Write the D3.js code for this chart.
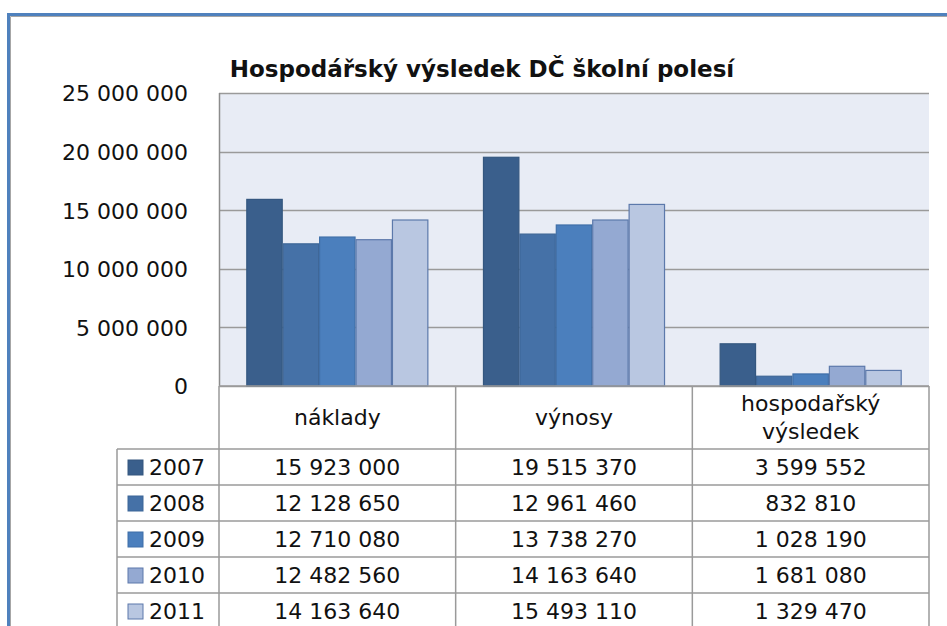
<!DOCTYPE html>
<html>
<head>
<meta charset="utf-8">
<script src="https://cdn.jsdelivr.net/npm/d3@7"></script>
<style>
  body { margin: 0; background: #fff; }
  svg text { font-family: "DejaVu Sans", sans-serif; fill: #111; }
</style>
</head>
<body>
<div id="chart"></div>
<script>
// data
var categories = ["náklady", "výnosy", "hospodařský výsledek"];
var years = ["2007", "2008", "2009", "2010", "2011"];
var naklady = [15923000, 12128650, 12710080, 12482560, 14163640];
var vynosy = [19515370, 12961460, 13738270, 14163640, 15493110];
var vysledek = [3599552, 832810, 1028190, 1681080, 1329470];
var yTicks = [0, 5000000, 10000000, 15000000, 20000000, 25000000];

var colors = ["#3a5f8c", "#4571a7", "#4b7fbd", "#94a9d2", "#b9c7e1"];
var strokes = ["#34577f", "#3d6697", "#3f6fa8", "#5c79ab", "#5c79ab"];

var series = [naklady, vynosy, vysledek];

var W = 947, H = 626;
var svg = d3.select("#chart").append("svg")
    .attr("width", W)
    .attr("height", H);

// outer frame of the pasted chart
svg.append("rect")
    .attr("x", 8.5).attr("y", 14.5)
    .attr("width", 1000).attr("height", 1000)
    .attr("fill", "none")
    .attr("stroke", "#4f81bd")
    .attr("stroke-width", 3);
svg.append("path")
    .attr("d", "M10.5,1000V16.5H1000")
    .attr("fill", "none")
    .attr("stroke", "#a6a6a6");

var plotLeft = 219, plotRight = 929, plotTop = 93, plotBottom = 386;
var fontSize = "22px";

var x0 = d3.scaleBand()
    .domain(categories)
    .range([plotLeft, plotRight]);

var x1 = d3.scaleBand()
    .domain(years)
    .range([0, x0.bandwidth()])
    .paddingOuter(0.75);

var y = d3.scaleLinear()
    .domain([0, 25000000])
    .range([plotBottom, plotTop]);

var fmt = d3.formatLocale({decimal: ",", thousands: "\u00a0", grouping: [3], currency: ["", ""]}).format(",d");

// title
svg.append("text")
    .attr("x", 482)
    .attr("y", 77)
    .attr("text-anchor", "middle")
    .style("font-weight", "bold")
    .style("font-size", "23px")
    .text("Hospodářský výsledek DČ školní polesí");

// plot background
svg.append("rect")
    .attr("x", plotLeft).attr("y", plotTop)
    .attr("width", plotRight - plotLeft).attr("height", plotBottom - plotTop)
    .attr("fill", "#e8ecf5");

// gridlines
svg.append("g")
    .selectAll("line")
    .data(yTicks)
    .join("line")
    .attr("x1", plotLeft).attr("x2", plotRight)
    .attr("y1", function(d) { return Math.round(y(d)) + 0.5; })
    .attr("y2", function(d) { return Math.round(y(d)) + 0.5; })
    .attr("stroke", "#9a9a9a")
    .attr("stroke-width", 1.5);

// y axis labels
var yAxis = svg.append("g")
    .attr("transform", "translate(" + plotLeft + ",0)")
    .call(d3.axisLeft(y).tickValues(yTicks).tickSize(0).tickPadding(31).tickFormat(fmt));
yAxis.select(".domain").remove();
yAxis.selectAll("text")
    .style("font-size", fontSize)
    .style("font-family", "DejaVu Sans, sans-serif")
    .attr("fill", "#111")
    .attr("dy", "0.36em");

// bars
var groups = svg.append("g")
    .selectAll("g")
    .data(categories)
    .join("g")
    .attr("transform", function(d) { return "translate(" + x0(d) + ",0)"; });

groups.selectAll("rect")
    .data(function(d, i) { return series[i].map(function(v, j) { return {year: years[j], value: v, k: j}; }); })
    .join("rect")
    .attr("x", function(d) { return x1(d.year) + 0.5; })
    .attr("y", function(d) { return y(d.value); })
    .attr("width", x1.bandwidth() - 1)
    .attr("height", function(d) { return plotBottom - y(d.value); })
    .attr("fill", function(d) { return colors[d.k]; })
    .attr("stroke", function(d) { return strokes[d.k]; })
    .attr("stroke-width", 1.2);

// vertical axis line
svg.append("line")
    .attr("x1", plotLeft + 0.5).attr("x2", plotLeft + 0.5)
    .attr("y1", plotTop).attr("y2", plotBottom)
    .attr("stroke", "#8c8c8c")
    .attr("stroke-width", 1.5);

// data table
var headBottom = 449, rowH = 36, tableLeft = 117;
var grid = svg.append("g")
    .attr("fill", "none")
    .attr("stroke", "#9a9a9a")
    .attr("stroke-width", 1.5);

grid.append("line").attr("x1", plotLeft).attr("x2", plotRight).attr("y1", plotBottom).attr("y2", plotBottom);
x0.domain().forEach(function(c) {
    grid.append("line")
        .attr("x1", x0(c)).attr("x2", x0(c))
        .attr("y1", plotBottom).attr("y2", 700);
});
grid.append("line").attr("x1", plotRight).attr("x2", plotRight).attr("y1", plotBottom).attr("y2", 700);
grid.append("line").attr("x1", tableLeft).attr("x2", tableLeft).attr("y1", headBottom).attr("y2", 700);
years.forEach(function(yr, i) {
    var yy = headBottom + i * rowH;
    grid.append("line").attr("x1", tableLeft).attr("x2", plotRight).attr("y1", yy).attr("y2", yy);
});

// header labels
var head = svg.append("g").style("font-size", fontSize);
categories.forEach(function(c) {
    var cx = x0(c) + x0.bandwidth() / 2;
    var words = c === "hospodařský výsledek" ? ["hospodařský", "výsledek"] : [c];
    words.forEach(function(w, k) {
        head.append("text")
            .attr("x", cx)
            .attr("y", words.length === 1 ? 425 : 411 + k * 28)
            .attr("text-anchor", "middle")
            .text(w);
    });
});

// rows
var rows = svg.append("g")
    .selectAll("g")
    .data(years)
    .join("g")
    .attr("transform", function(d, i) { return "translate(0," + (headBottom + i * rowH + rowH / 2) + ")"; })
    .style("font-size", fontSize);

rows.append("rect")
    .attr("x", 128).attr("y", -7)
    .attr("width", 15).attr("height", 15)
    .attr("fill", function(d, i) { return colors[i]; })
    .attr("stroke", function(d, i) { return strokes[i]; });

rows.append("text")
    .attr("x", 149)
    .attr("dy", "0.36em")
    .text(function(d) { return d; });

rows.each(function(yr, i) {
    var row = d3.select(this);
    categories.forEach(function(c, ci) {
        row.append("text")
            .attr("x", x0(c) + x0.bandwidth() / 2)
            .attr("dy", "0.36em")
            .attr("text-anchor", "middle")
            .text(fmt(series[ci][i]));
    });
});
</script>
</body>
</html>
